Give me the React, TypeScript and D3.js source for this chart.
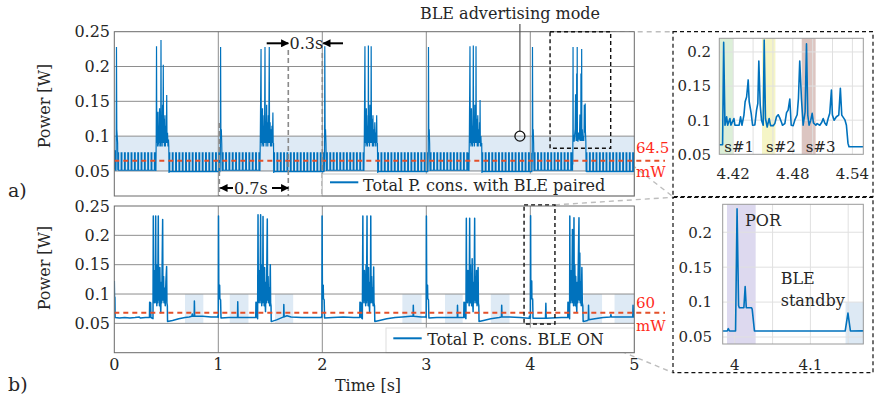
import React from "react";
import * as d3 from "d3";

// ---------------- axes ----------------
const powerTicks = [0.05, 0.1, 0.15, 0.2, 0.25];
const timeTicks = [0, 1, 2, 3, 4, 5];
const gridTimes = [1, 2, 3, 4];
const gridPowers = [0.05, 0.1, 0.15, 0.2];

// ---------------- panel a) BLE paired ----------------
const avgA = 0.0645;
const avgLabelA = ["64.5", "mW"];
const legendA = "Total P. cons. with BLE paired";
const advBand = [0.049, 0.1];
const pulsePeriodA = 0.032;
const pulseWidthA = 0.007;
// idle pulse-train stretches: [start, end, low, high]
const idleA: number[][] = [
  [0.034, 0.398, 0.051, 0.076],
  [0.526, 1.015, 0.049, 0.076],
  [1.039, 1.398, 0.051, 0.076],
  [1.533, 2.017, 0.049, 0.076],
  [2.041, 2.398, 0.051, 0.076],
  [2.533, 3.014, 0.049, 0.076],
  [3.038, 3.408, 0.051, 0.076],
  [3.535, 4.014, 0.049, 0.076],
  [4.038, 4.406, 0.051, 0.076],
  [4.537, 5.0, 0.049, 0.076],
];
const burstA0 = [[0, 0.052], [0.004, 0.08], [0.008, 0.078], [0.01, 0.051], [0.016, 0.051], [0.018, 0.08], [0.021, 0.228], [0.024, 0.11], [0.028, 0.1], [0.032, 0.09], [0.034, 0.051]];
const spikeA1 = [[1.015, 0.076], [1.017, 0.05], [1.02, 0.08], [1.022, 0.228], [1.025, 0.105], [1.029, 0.11], [1.033, 0.09], [1.037, 0.05]];
const spikeA2 = [[2.017, 0.076], [2.019, 0.05], [2.022, 0.08], [2.024, 0.229], [2.027, 0.105], [2.031, 0.11], [2.035, 0.09], [2.039, 0.05]];
const spikeA3 = [[3.014, 0.076], [3.016, 0.05], [3.019, 0.08], [3.021, 0.228], [3.024, 0.105], [3.028, 0.11], [3.032, 0.09], [3.036, 0.05]];
const spikeA4 = [[4.014, 0.076], [4.016, 0.05], [4.019, 0.08], [4.021, 0.228], [4.024, 0.105], [4.028, 0.11], [4.032, 0.09], [4.036, 0.05]];
const clusterA1 = [[0.398, 0.076], [0.4, 0.05], [0.403, 0.1], [0.406, 0.229], [0.409, 0.09], [0.413, 0.125], [0.416, 0.085], [0.42, 0.135], [0.423, 0.088], [0.427, 0.115], [0.431, 0.085], [0.435, 0.14], [0.438, 0.09], [0.442, 0.12], [0.446, 0.085], [0.449, 0.238], [0.452, 0.09], [0.456, 0.13], [0.46, 0.085], [0.464, 0.145], [0.467, 0.09], [0.471, 0.2025], [0.474, 0.09], [0.478, 0.125], [0.482, 0.085], [0.487, 0.13], [0.491, 0.085], [0.496, 0.115], [0.5, 0.09], [0.504, 0.159], [0.507, 0.09], [0.512, 0.105], [0.516, 0.085], [0.521, 0.095], [0.524, 0.085], [0.526, 0.047]];
const clusterA2 = [[1.398, 0.076], [1.4, 0.05], [1.404, 0.1], [1.411, 0.225], [1.414, 0.09], [1.418, 0.125], [1.421, 0.085], [1.425, 0.14], [1.428, 0.088], [1.432, 0.115], [1.436, 0.085], [1.44, 0.13], [1.444, 0.09], [1.449, 0.228], [1.452, 0.09], [1.456, 0.12], [1.46, 0.085], [1.465, 0.145], [1.468, 0.09], [1.472, 0.12], [1.476, 0.085], [1.481, 0.13], [1.485, 0.09], [1.49, 0.228], [1.493, 0.09], [1.498, 0.12], [1.502, 0.085], [1.507, 0.11], [1.511, 0.085], [1.516, 0.115], [1.52, 0.09], [1.525, 0.134], [1.528, 0.085], [1.531, 0.09], [1.533, 0.047]];
const clusterA3 = [[2.398, 0.076], [2.4, 0.05], [2.404, 0.1], [2.41, 0.229], [2.413, 0.09], [2.417, 0.125], [2.42, 0.085], [2.424, 0.14], [2.427, 0.088], [2.431, 0.115], [2.435, 0.085], [2.439, 0.13], [2.441, 0.09], [2.443, 0.23], [2.446, 0.09], [2.45, 0.12], [2.454, 0.085], [2.458, 0.145], [2.461, 0.09], [2.465, 0.12], [2.467, 0.09], [2.47, 0.229], [2.473, 0.09], [2.478, 0.125], [2.482, 0.085], [2.487, 0.13], [2.491, 0.085], [2.496, 0.11], [2.5, 0.09], [2.505, 0.12], [2.509, 0.085], [2.514, 0.105], [2.518, 0.09], [2.523, 0.13], [2.526, 0.085], [2.53, 0.09], [2.533, 0.047]];
const clusterA4 = [[3.408, 0.076], [3.41, 0.05], [3.414, 0.1], [3.42, 0.229], [3.423, 0.09], [3.427, 0.125], [3.43, 0.085], [3.434, 0.14], [3.437, 0.088], [3.441, 0.115], [3.445, 0.085], [3.449, 0.13], [3.452, 0.23], [3.455, 0.09], [3.459, 0.12], [3.463, 0.085], [3.467, 0.145], [3.47, 0.09], [3.474, 0.12], [3.476, 0.09], [3.478, 0.229], [3.481, 0.09], [3.486, 0.125], [3.49, 0.085], [3.495, 0.13], [3.499, 0.085], [3.504, 0.11], [3.508, 0.09], [3.512, 0.12], [3.515, 0.09], [3.517, 0.152], [3.52, 0.085], [3.525, 0.1], [3.529, 0.085], [3.533, 0.09], [3.535, 0.047]];
const clusterA5 = [[4.406, 0.06], [4.409, 0.06], [4.411, 0.228], [4.413, 0.092], [4.418, 0.102], [4.422, 0.092], [4.428, 0.105], [4.431, 0.11], [4.435, 0.16], [4.438, 0.11], [4.441, 0.093], [4.445, 0.125], [4.446, 0.19], [4.448, 0.12], [4.45, 0.093], [4.451, 0.228], [4.453, 0.1], [4.458, 0.092], [4.464, 0.105], [4.468, 0.097], [4.472, 0.095], [4.475, 0.115], [4.477, 0.131], [4.479, 0.093], [4.483, 0.1], [4.486, 0.132], [4.487, 0.19], [4.489, 0.132], [4.49, 0.093], [4.492, 0.112], [4.494, 0.225], [4.496, 0.093], [4.5, 0.11], [4.503, 0.093], [4.51, 0.1], [4.514, 0.093], [4.517, 0.11], [4.519, 0.145], [4.52, 0.108], [4.524, 0.105], [4.528, 0.147], [4.53, 0.107], [4.534, 0.093], [4.537, 0.05]];
const burstsA = [burstA0, clusterA1, spikeA1, clusterA2, spikeA2, clusterA3, spikeA3, clusterA4, spikeA4, clusterA5];
const boxA = { t: [4.19, 4.773], p: [0.0825, 0.25] };
const advPoint = [3.9, 0.1];
const advLabel = "BLE advertising mode";
const markerTimes = { a: 1.01, b: 1.673, c: 2.0 };

// inset of a)
const zoomA = [[4.406, 0.064], [4.4093, 0.064], [4.4104, 0.214], [4.4117, 0.0926], [4.4134, 0.105], [4.4144, 0.0926], [4.4167, 0.1025], [4.4177, 0.0926], [4.4207, 0.1025], [4.4217, 0.0926], [4.426, 0.0926], [4.4274, 0.105], [4.4288, 0.0926], [4.4308, 0.1075], [4.432, 0.127], [4.4335, 0.134], [4.4351, 0.159], [4.4361, 0.127], [4.4381, 0.11], [4.4395, 0.0926], [4.4418, 0.093], [4.4435, 0.1147], [4.4448, 0.1245], [4.4458, 0.1868], [4.4472, 0.122], [4.4485, 0.1], [4.4502, 0.0926], [4.4512, 0.2176], [4.4525, 0.1025], [4.4542, 0.09], [4.4562, 0.1025], [4.4576, 0.092], [4.4603, 0.092], [4.4619, 0.095], [4.4636, 0.105], [4.4653, 0.108], [4.467, 0.103], [4.4686, 0.097], [4.4696, 0.0926], [4.472, 0.095], [4.4737, 0.111], [4.4753, 0.1147], [4.477, 0.131], [4.4784, 0.0926], [4.4804, 0.092], [4.482, 0.1], [4.4844, 0.108], [4.4857, 0.132], [4.487, 0.1868], [4.4887, 0.132], [4.4904, 0.0926], [4.4924, 0.112], [4.4938, 0.2118], [4.4951, 0.1075], [4.4964, 0.0926], [4.4981, 0.1], [4.4995, 0.11], [4.5008, 0.096], [4.5032, 0.0926], [4.5045, 0.095], [4.5072, 0.0926], [4.5092, 0.097], [4.5106, 0.1025], [4.5122, 0.096], [4.5139, 0.0926], [4.5156, 0.1025], [4.5172, 0.11], [4.5189, 0.144], [4.5199, 0.1075], [4.5216, 0.1], [4.5239, 0.105], [4.5263, 0.1075], [4.5279, 0.1466], [4.5293, 0.1075], [4.5313, 0.103], [4.5326, 0.1], [4.534, 0.0926], [4.5356, 0.066], [4.5366, 0.061], [4.551, 0.061]];
const zoomDomainA = { t: [4.406, 4.551], p: [0.05, 0.22] };
const zoomTicksXA = [4.42, 4.48, 4.54];
const zoomGridXA = [4.42, 4.44, 4.46, 4.48, 4.5, 4.52, 4.54];
const zoomTicksY = [0.05, 0.1, 0.15, 0.2];
const slotLabels = ["s#1", "s#2", "s#3"];
const slotRanges = [[4.406, 4.42], [4.449, 4.4625], [4.489, 4.503]];

// ---------------- panel b) BLE ON ----------------
const avgB = 0.068;
const avgLabelB = ["60", "mW"];
const legendB = "Total P. cons. BLE ON";
const signalB = [
  [0, 0.122], [0.002, 0.096], [0.006, 0.094], [0.008, 0.06], [0.05, 0.059], [0.1, 0.06], [0.15, 0.059], [0.2, 0.06], [0.24, 0.061], [0.25, 0.059], [0.3, 0.06], [0.338, 0.06], [0.34, 0.086], [0.35, 0.085], [0.352, 0.06], [0.372, 0.058],
  [0.375, 0.233], [0.378, 0.09], [0.382, 0.13], [0.386, 0.085], [0.39, 0.14], [0.394, 0.09], [0.398, 0.233], [0.401, 0.085], [0.405, 0.12], [0.409, 0.08], [0.413, 0.15], [0.417, 0.085], [0.423, 0.233], [0.426, 0.09], [0.43, 0.13], [0.434, 0.08], [0.438, 0.145], [0.442, 0.09], [0.447, 0.068], [0.452, 0.12], [0.456, 0.085], [0.465, 0.227], [0.468, 0.09], [0.474, 0.13], [0.478, 0.085], [0.484, 0.11], [0.49, 0.08], [0.496, 0.12], [0.503, 0.147], [0.506, 0.085], [0.51, 0.08], [0.512, 0.053],
  [0.56, 0.055], [0.62, 0.058], [0.68, 0.06], [0.72, 0.061], [0.745, 0.062], [0.75, 0.066], [0.755, 0.062], [0.768, 0.062], [0.77, 0.088], [0.773, 0.062], [0.85, 0.062], [0.93, 0.061], [0.995, 0.061],
  [0.998, 0.064], [1.0, 0.06], [1.002, 0.233], [1.005, 0.1], [1.012, 0.092], [1.013, 0.115], [1.015, 0.092], [1.022, 0.09], [1.026, 0.059], [1.1, 0.06], [1.185, 0.06], [1.187, 0.087], [1.19, 0.06], [1.3, 0.06], [1.36, 0.06], [1.362, 0.086], [1.372, 0.085], [1.374, 0.06], [1.378, 0.058],
  [1.382, 0.235], [1.385, 0.09], [1.389, 0.13], [1.393, 0.085], [1.397, 0.14], [1.401, 0.09], [1.407, 0.235], [1.41, 0.085], [1.414, 0.12], [1.418, 0.08], [1.422, 0.15], [1.426, 0.085], [1.43, 0.232], [1.433, 0.09], [1.437, 0.13], [1.441, 0.08], [1.445, 0.145], [1.449, 0.09], [1.454, 0.07], [1.459, 0.12], [1.463, 0.085], [1.471, 0.228], [1.474, 0.09], [1.479, 0.13], [1.483, 0.085], [1.489, 0.11], [1.494, 0.08], [1.5, 0.15], [1.503, 0.085], [1.507, 0.08], [1.509, 0.053],
  [1.56, 0.056], [1.6, 0.059], [1.628, 0.061], [1.63, 0.082], [1.633, 0.061], [1.66, 0.063], [1.7, 0.061], [1.8, 0.06], [1.9, 0.06], [1.99, 0.06],
  [1.994, 0.062], [1.996, 0.06], [1.998, 0.233], [2.001, 0.1], [2.008, 0.092], [2.009, 0.115], [2.011, 0.092], [2.018, 0.09], [2.022, 0.059], [2.1, 0.06], [2.2, 0.061], [2.3, 0.06], [2.36, 0.06], [2.362, 0.086], [2.372, 0.085], [2.374, 0.06], [2.385, 0.058],
  [2.39, 0.233], [2.393, 0.09], [2.397, 0.13], [2.401, 0.085], [2.405, 0.14], [2.409, 0.09], [2.413, 0.12], [2.417, 0.08], [2.421, 0.15], [2.425, 0.085], [2.43, 0.233], [2.433, 0.09], [2.437, 0.13], [2.441, 0.08], [2.445, 0.145], [2.449, 0.09], [2.455, 0.07], [2.46, 0.12], [2.463, 0.085], [2.466, 0.233], [2.469, 0.09], [2.474, 0.13], [2.478, 0.085], [2.484, 0.11], [2.489, 0.08], [2.494, 0.146], [2.497, 0.085], [2.502, 0.08], [2.505, 0.053],
  [2.55, 0.055], [2.62, 0.058], [2.7, 0.06], [2.77, 0.061], [2.85, 0.062], [2.873, 0.062], [2.875, 0.081], [2.878, 0.062], [2.95, 0.061], [2.995, 0.061],
  [2.997, 0.063], [2.999, 0.06], [3.001, 0.233], [3.004, 0.1], [3.011, 0.092], [3.012, 0.115], [3.014, 0.092], [3.021, 0.09], [3.025, 0.059], [3.1, 0.06], [3.2, 0.06], [3.298, 0.06], [3.3, 0.081], [3.303, 0.06], [3.36, 0.06], [3.362, 0.086], [3.372, 0.085], [3.374, 0.06], [3.381, 0.058],
  [3.385, 0.229], [3.388, 0.09], [3.392, 0.13], [3.396, 0.085], [3.4, 0.14], [3.404, 0.09], [3.408, 0.12], [3.412, 0.08], [3.417, 0.229], [3.42, 0.085], [3.424, 0.15], [3.428, 0.085], [3.432, 0.13], [3.436, 0.08], [3.441, 0.16], [3.445, 0.09], [3.45, 0.07], [3.455, 0.12], [3.459, 0.085], [3.465, 0.229], [3.468, 0.09], [3.473, 0.13], [3.477, 0.085], [3.483, 0.14], [3.488, 0.08], [3.494, 0.12], [3.498, 0.145], [3.501, 0.085], [3.505, 0.08], [3.507, 0.053],
  [3.55, 0.055], [3.62, 0.058], [3.7, 0.06], [3.722, 0.061], [3.725, 0.081], [3.728, 0.061], [3.8, 0.061], [3.9, 0.06], [3.985, 0.0586], [3.99, 0.0586], [3.9914, 0.062], [3.993, 0.0586], [4.001, 0.0586],
  [4.003, 0.2334], [4.005, 0.095], [4.006, 0.092], [4.012, 0.092], [4.0137, 0.1224], [4.0152, 0.092], [4.022, 0.092], [4.023, 0.09], [4.026, 0.0586], [4.1, 0.0586], [4.146, 0.0586], [4.1497, 0.0843], [4.153, 0.0586], [4.2, 0.059], [4.3, 0.06], [4.36, 0.06], [4.362, 0.086], [4.372, 0.085], [4.374, 0.06], [4.378, 0.058],
  [4.38, 0.233], [4.383, 0.09], [4.387, 0.13], [4.391, 0.085], [4.395, 0.14], [4.399, 0.09], [4.405, 0.21], [4.408, 0.085], [4.412, 0.12], [4.416, 0.08], [4.42, 0.23], [4.423, 0.085], [4.428, 0.15], [4.432, 0.08], [4.437, 0.13], [4.441, 0.09], [4.447, 0.07], [4.452, 0.12], [4.456, 0.085], [4.468, 0.23], [4.471, 0.09], [4.476, 0.17], [4.48, 0.085], [4.486, 0.12], [4.49, 0.08], [4.496, 0.145], [4.5, 0.085], [4.505, 0.08], [4.508, 0.053],
  [4.55, 0.055], [4.558, 0.056], [4.56, 0.081], [4.563, 0.056], [4.62, 0.058], [4.7, 0.06], [4.77, 0.061], [4.775, 0.065], [4.78, 0.061], [4.88, 0.061], [4.985, 0.061], [4.988, 0.081], [4.991, 0.061], [5.0, 0.061],
];
const standbyB = [[0.68, 0.856], [1.11, 1.29], [1.545, 1.72], [2.77, 2.955], [3.18, 3.35], [3.62, 3.8], [4.51, 4.69], [4.81, 5.0]];
const standbyLevels = [0.05, 0.1];
const boxB = { t: [3.94, 4.237], p: [0.049, 0.252] };

// inset of b)
const zoomDomainB = { t: [3.984, 4.17], p: [0.04, 0.24] };
const zoomTicksXB = [4, 4.1];
const zoomGridXB = [4, 4.05, 4.1, 4.15];
const porRange = [3.9897, 4.0276];
const standbyRange = [4.1465, 4.1707];
const standbyTop = 0.1;
const porLabel = "POR";
const standbyLabel = ["BLE", "standby"];

// ---------------- helpers ----------------
function pulseTrain(seg: number[]) {
  const [s, e, lo, hi] = seg;
  const pts: number[][] = [];
  for (let t = s; t < e - 1e-9; t += pulsePeriodA) {
    const m = Math.min(t + pulseWidthA, e);
    pts.push([t, lo], [t, hi], [m, hi], [m, lo]);
  }
  pts.push([e, lo]);
  return pts;
}

const FONT = '"DejaVu Serif", serif';
const BLUE = "#0072BD";
const TXT = "#262626";
const RED_LINE = "#e4502a";
const RED_TXT = "#ff2a1a";
const GRID = "#8e8e8e";
const AXIS = "#6a6a6a";

export default function App() {
  const xA = d3.scaleLinear().domain([0, 5]).range([114.3, 634.3]);
  const yA = d3.scaleLinear().domain([0.014, 0.25]).range([196, 31.7]);
  const xB = d3.scaleLinear().domain([0, 5]).range([114.3, 634.3]);
  const yB = d3.scaleLinear().domain([0, 0.25]).range([352.7, 206]);
  const xZA = d3.scaleLinear().domain(zoomDomainA.t).range([719.3, 863.3]);
  const yZA = d3.scaleLinear().domain(zoomDomainA.p).range([154.3, 38.3]);
  const xZB = d3.scaleLinear().domain(zoomDomainB.t).range([722.7, 863.3]);
  const yZB = d3.scaleLinear().domain(zoomDomainB.p).range([344, 204.3]);

  const pieces: number[][][] = [...burstsA, ...idleA.map(pulseTrain)];
  pieces.sort((a, b) => a[0][0] - b[0][0]);
  const signalA = pieces.flat();

  const mk = (x: any, y: any) => d3.line<number[]>().x((d) => x(d[0])).y((d) => y(d[1]));
  const pathA = mk(xA, yA)(signalA) || "";
  const pathB = mk(xB, yB)(signalB) || "";
  const pathZA = mk(xZA, yZA)(zoomA) || "";
  const pathZB = mk(xZB, yZB)(signalB) || "";

  const [ax0, ax1] = xA.range();
  const [ay1, ay0] = yA.range();
  const [bx0, bx1] = xB.range();
  const [by1, by0] = yB.range();

  const slotColors = ["#dcefd8", "#f5f5c6", "#dcc5c1"];

  const text = (props: any, s: string) => (
    <text fontFamily={FONT} fill={TXT} fontSize={16} {...props}>{s}</text>
  );

  return (
    <svg width={874} height={402} viewBox="0 0 874 402" style={{ position: "absolute", left: 0, top: 0, background: "#fff" }}>
      <defs>
        <clipPath id="cA"><rect x={ax0} y={ay0} width={ax1 - ax0} height={ay1 - ay0} /></clipPath>
        <clipPath id="cB"><rect x={bx0} y={by0} width={bx1 - bx0} height={by1 - by0} /></clipPath>
        <clipPath id="cZA"><rect x={719.3} y={38.3} width={144} height={116} /></clipPath>
        <clipPath id="cZB"><rect x={722.7} y={204.3} width={140.6} height={139.7} /></clipPath>
        <marker id="arr" viewBox="0 0 10 10" refX={9} refY={5} markerWidth={4.5} markerHeight={4} orient="auto" markerUnits="strokeWidth">
          <path d="M0,0 L10,5 L0,10 z" fill="#000" />
        </marker>
      </defs>
      <rect x={0} y={0} width={874} height={402} fill="#fff" />

      {/* ---------- connectors ---------- */}
      <g stroke="#bdbdbd" strokeWidth={1.4} strokeDasharray="5,4" fill="none">
        <line x1={xA(boxA.t[1])} y1={yA(boxA.p[1])} x2={673} y2={31.7} />
        <line x1={xA(boxA.t[1])} y1={yA(boxA.p[0])} x2={673} y2={196.7} />
        <line x1={xB(boxB.t[1])} y1={yB(boxB.p[1])} x2={673} y2={197.3} />
        <line x1={xB(boxB.t[1])} y1={yB(boxB.p[0])} x2={673} y2={372.7} />
      </g>

      {/* ---------- panel a ---------- */}
      <rect x={ax0} y={ay0} width={ax1 - ax0} height={ay1 - ay0} fill="#fff" />
      <rect x={ax0} y={yA(advBand[1])} width={ax1 - ax0} height={yA(advBand[0]) - yA(advBand[1])} fill="#deeaf5" />
      <g stroke={GRID} strokeWidth={1}>
        {gridPowers.map((p) => <line key={p} x1={ax0} x2={ax1} y1={yA(p)} y2={yA(p)} />)}
        {gridTimes.map((t) => <line key={t} x1={xA(t)} x2={xA(t)} y1={ay0} y2={ay1} />)}
      </g>
      <path d={pathA} fill="none" stroke={BLUE} strokeWidth={1.2} clipPath="url(#cA)" />
      <line x1={ax0} x2={665} y1={yA(avgA)} y2={yA(avgA)} stroke={RED_LINE} strokeWidth={2} strokeDasharray="5,4" />
      {/* markers */}
      <g stroke="#8a8a8a" strokeWidth={1.6} strokeDasharray="5,3">
        <line x1={xA(markerTimes.a)} x2={xA(markerTimes.a)} y1={123} y2={ay1} />
        <line x1={xA(markerTimes.b)} x2={xA(markerTimes.b)} y1={50} y2={ay1} />
        <line x1={xA(markerTimes.c)} x2={xA(markerTimes.c)} y1={53} y2={ay1} />
      </g>
      {/* legend a */}
      <rect x={xA(markerTimes.c)} y={174} width={ax1 - xA(markerTimes.c)} height={ay1 - 174} fill="#fff" stroke="#c4c4c4" strokeWidth={1} />
      <line x1={330} x2={358.3} y1={182.3} y2={182.3} stroke={BLUE} strokeWidth={2} />
      {text({ x: 363, y: 190.5 }, legendA)}
      <rect x={ax0} y={ay0} width={ax1 - ax0} height={ay1 - ay0} fill="none" stroke={AXIS} strokeWidth={1} />
      {/* zoom box a */}
      <rect x={xA(boxA.t[0])} y={yA(boxA.p[1])} width={xA(boxA.t[1]) - xA(boxA.t[0])} height={yA(boxA.p[0]) - yA(boxA.p[1])} fill="none" stroke="#111" strokeWidth={1.4} strokeDasharray="4,3" />
      {/* advertising annotation */}
      <line x1={xA(advPoint[0])} x2={xA(advPoint[0])} y1={24} y2={yA(advPoint[1]) - 5} stroke="#555" strokeWidth={1.2} />
      <circle cx={xA(advPoint[0])} cy={yA(advPoint[1])} r={5} fill="none" stroke="#111" strokeWidth={1.3} />
      {text({ x: 510, y: 19, textAnchor: "middle" }, advLabel)}
      {/* 0.3s / 0.7s arrows */}
      <g stroke="#000" strokeWidth={2} markerEnd="url(#arr)">
        <line x1={266.7} x2={xA(markerTimes.b)} y1={43.3} y2={43.3} />
        <line x1={343} x2={xA(markerTimes.c) + 1} y1={43.3} y2={43.3} />
        <line x1={233} x2={xA(markerTimes.a) + 1} y1={188} y2={188} />
        <line x1={272} x2={xA(markerTimes.b)} y1={188} y2={188} />
      </g>
      {text({ x: 289.5, y: 49 }, "0.3s")}
      {text({ x: 234, y: 194 }, "0.7s")}
      {/* axis labels a */}
      {powerTicks.map((p) => text({ key: p, x: 110, y: yA(p), dy: "0.36em", textAnchor: "end" }, String(p)))}
      {text({ transform: "translate(50,106) rotate(-90)", textAnchor: "middle" }, "Power [W]")}
      <text x={636} y={153} fontFamily={FONT} fontSize={15} fill={RED_TXT}>{avgLabelA[0]}</text>
      <text x={636} y={177} fontFamily={FONT} fontSize={15} fill={RED_TXT}>{avgLabelA[1]}</text>
      {text({ x: 8, y: 197, fontSize: 19 }, "a)")}

      {/* ---------- panel b ---------- */}
      <rect x={bx0} y={by0} width={bx1 - bx0} height={by1 - by0} fill="#fff" />
      {standbyB.map((r, i) => (
        <rect key={i} x={xB(r[0])} y={yB(standbyLevels[1])} width={xB(r[1]) - xB(r[0])} height={yB(standbyLevels[0]) - yB(standbyLevels[1])} fill="#deeaf5" />
      ))}
      <g stroke={GRID} strokeWidth={1}>
        {gridPowers.map((p) => <line key={p} x1={bx0} x2={bx1} y1={yB(p)} y2={yB(p)} />)}
        {gridTimes.map((t) => <line key={t} x1={xB(t)} x2={xB(t)} y1={by0} y2={by1} />)}
      </g>
      <path d={pathB} fill="none" stroke={BLUE} strokeWidth={1.5} clipPath="url(#cB)" strokeLinejoin="round" />
      <line x1={bx0} x2={665} y1={yB(avgB)} y2={yB(avgB)} stroke={RED_LINE} strokeWidth={2} strokeDasharray="5,4" />
      <rect x={386} y={328} width={bx1 - 386} height={by1 - 328} fill="#fff" stroke="#dddddd" strokeWidth={1} />
      <line x1={393.3} x2={421.7} y1={338.3} y2={338.3} stroke={BLUE} strokeWidth={2} />
      {text({ x: 427.3, y: 345 }, legendB)}
      <rect x={bx0} y={by0} width={bx1 - bx0} height={by1 - by0} fill="none" stroke={AXIS} strokeWidth={1} />
      <rect x={xB(boxB.t[0])} y={yB(boxB.p[1])} width={xB(boxB.t[1]) - xB(boxB.t[0])} height={yB(boxB.p[0]) - yB(boxB.p[1])} fill="none" stroke="#111" strokeWidth={1.4} strokeDasharray="4,3" />
      {powerTicks.map((p) => text({ key: p, x: 110, y: yB(p), dy: "0.36em", textAnchor: "end" }, String(p)))}
      {timeTicks.map((t) => text({ key: t, x: xB(t), y: 369.5, textAnchor: "middle" }, String(t)))}
      {text({ transform: "translate(50,268) rotate(-90)", textAnchor: "middle" }, "Power [W]")}
      {text({ x: 368, y: 391, textAnchor: "middle" }, "Time [s]")}
      <text x={636} y={308} fontFamily={FONT} fontSize={15} fill={RED_TXT}>{avgLabelB[0]}</text>
      <text x={636} y={331} fontFamily={FONT} fontSize={15} fill={RED_TXT}>{avgLabelB[1]}</text>
      {text({ x: 8, y: 391, fontSize: 19 }, "b)")}

      {/* ---------- inset a ---------- */}
      <rect x={673} y={31.7} width={200} height={165} fill="none" stroke="#111" strokeWidth={1.2} strokeDasharray="4,3" />
      <rect x={719.3} y={38.3} width={144} height={116} fill="#fff" />
      {slotRanges.map((r, i) => (
        <rect key={i} x={xZA(r[0])} y={38.3} width={xZA(r[1]) - xZA(r[0])} height={116} fill={slotColors[i]} />
      ))}
      <g stroke="#e0e0e0" strokeWidth={1}>
        {zoomTicksY.slice(1).map((p) => <line key={p} x1={719.3} x2={863.3} y1={yZA(p)} y2={yZA(p)} />)}
        {zoomGridXA.map((t) => <line key={t} x1={xZA(t)} x2={xZA(t)} y1={38.3} y2={154.3} />)}
      </g>
      <path d={pathZA} fill="none" stroke={BLUE} strokeWidth={1.6} clipPath="url(#cZA)" strokeLinejoin="round" />
      {slotLabels.map((s, i) => (
        <text key={s} x={xZA(slotRanges[i][0]) + (i === 0 ? 5 : 4)} y={152} fontFamily={FONT} fontSize={15} fill={TXT}>{s}</text>
      ))}
      <rect x={719.3} y={38.3} width={144} height={116} fill="none" stroke="#9a9a9a" strokeWidth={1} />
      {zoomTicksY.map((p) => (
        <text key={p} x={711} y={yZA(p)} dy="0.36em" textAnchor="end" fontFamily={FONT} fontSize={15} fill={TXT}>{String(p)}</text>
      ))}
      {zoomTicksXA.map((t) => (
        <text key={t} x={xZA(t)} y={179} textAnchor="middle" fontFamily={FONT} fontSize={15} fill={TXT}>{String(t)}</text>
      ))}

      {/* ---------- inset b ---------- */}
      <rect x={673} y={197.3} width={200} height={175.4} fill="none" stroke="#111" strokeWidth={1.2} strokeDasharray="4,3" />
      <rect x={722.7} y={204.3} width={140.6} height={139.7} fill="#fff" />
      <rect x={xZB(porRange[0])} y={204.3} width={xZB(porRange[1]) - xZB(porRange[0])} height={139.7} fill="#ddd9ef" />
      <rect x={xZB(standbyRange[0])} y={yZB(standbyTop)} width={xZB(standbyRange[1]) - xZB(standbyRange[0])} height={344 - yZB(standbyTop)} fill="#dde9f4" />
      <g stroke="#e0e0e0" strokeWidth={1}>
        {zoomTicksY.map((p) => <line key={p} x1={722.7} x2={863.3} y1={yZB(p)} y2={yZB(p)} />)}
        {zoomGridXB.map((t) => <line key={t} x1={xZB(t)} x2={xZB(t)} y1={204.3} y2={344} />)}
      </g>
      <path d={pathZB} fill="none" stroke={BLUE} strokeWidth={1.6} clipPath="url(#cZB)" strokeLinejoin="round" />
      <rect x={722.7} y={204.3} width={140.6} height={139.7} fill="none" stroke="#9a9a9a" strokeWidth={1} />
      {text({ x: 745, y: 226 }, porLabel)}
      {text({ x: 780.7, y: 284 }, standbyLabel[0])}
      {text({ x: 780.7, y: 306 }, standbyLabel[1])}
      {zoomTicksY.map((p) => (
        <text key={p} x={712} y={yZB(p)} dy="0.36em" textAnchor="end" fontFamily={FONT} fontSize={15} fill={TXT}>{String(p)}</text>
      ))}
      {zoomTicksXB.map((t) => (
        <text key={t} x={xZB(t)} y={370} textAnchor="middle" fontFamily={FONT} fontSize={15} fill={TXT}>{String(t)}</text>
      ))}
    </svg>
  );
}
